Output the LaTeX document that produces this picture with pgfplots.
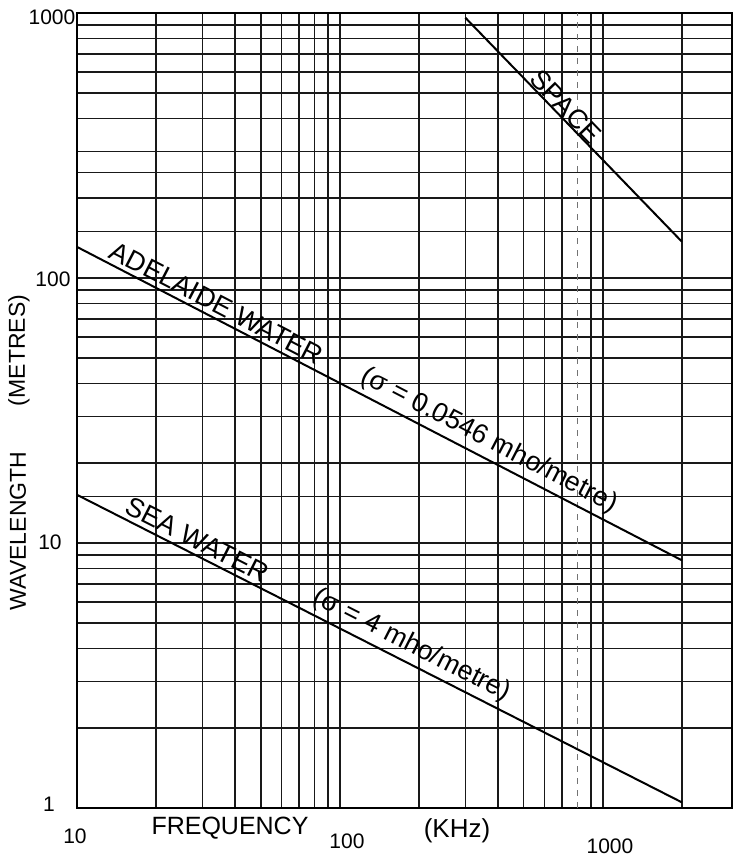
\documentclass[border=0pt]{standalone}
\usepackage{fontspec}
\setmainfont{Liberation Sans}
\usepackage{pgfplots}
\pgfplotsset{compat=1.18}
\newcommand{\lbl}[1]{{\fontsize{13.5}{15}\selectfont#1}}
\begin{document}
\begin{tikzpicture}
\useasboundingbox (-38.5pt,-24.5pt) rectangle (332pt,404pt);
\begin{axis}[
  at={(0,0)}, anchor=south west,
  scale only axis, width=327.5pt, height=397.5pt,
  xmode=log, ymode=log,
  xmin=10, xmax=3100, ymin=1, ymax=1000,
  xtick={10,20,30,40,50,60,70,80,90,100,200,300,400,500,600,700,900,1000,2000},
  ytick={1,2,3,4,5,6,7,8,9,10,15,20,30,40,50,60,70,80,90,100,150,200,250,300,400,500,600,700,800,900,1000},
  minor xtick={}, minor ytick={},
  xticklabels={}, yticklabels={},
  major tick length=0pt,
  grid=major,
  major grid style={black!90, line width=0.8pt},
  axis line style={black, line width=0.9pt},
  extra x ticks={800}, extra x tick labels={},
  extra x tick style={grid=major, major grid style={black!55, dashed, line width=0.5pt}},
  clip=false,
]
\addplot[black, line width=1pt] coordinates {(300,960) (2000,137)}
  node[pos=0.43, sloped, above, inner sep=0pt] {\lbl{SPACE}};
\addplot[black, line width=1pt] coordinates {(10,131) (2000,8.6)}
  node[pos=0.22, sloped, above, inner sep=2pt] {\lbl{ADELAIDE WATER}}
  node[pos=0.668, sloped, above, inner sep=2pt] {\lbl{(σ = 0.0546 mho/metre)}};
\addplot[black, line width=1pt] coordinates {(10,15.2) (2000,1.05)}
  node[pos=0.188, sloped, above, inner sep=2pt] {\lbl{SEA WATER}}
  node[pos=0.54, sloped, above, inner sep=2pt] {\lbl{(σ = 4 mho/metre)}};
\end{axis}
\begin{scope}[every node/.style={font=\fontsize{10.5}{12}\selectfont}]
\node at (-12.5pt,395.5pt) {1000};
\node at (-12pt,264.5pt) {100};
\node at (-13.5pt,133pt) {10};
\node at (-14pt,2pt) {1};
\node at (-1pt,-14pt) {10};
\node at (135pt,-16.5pt) {100};
\node at (266.5pt,-19pt) {1000};
\end{scope}
\node[font=\fontsize{12.5}{14}\selectfont] at (76.5pt,-10pt) {FREQUENCY};
\node[font=\fontsize{13}{15}\selectfont] at (190pt,-11.5pt) {(KHz)};
\node[rotate=90, font=\fontsize{11.5}{13}\selectfont] at (-29.5pt,138.5pt) {WAVELENGTH};
\node[rotate=90, font=\fontsize{11.5}{13}\selectfont] at (-29pt,228.75pt) {(METRES)};
\end{tikzpicture}
\end{document}
